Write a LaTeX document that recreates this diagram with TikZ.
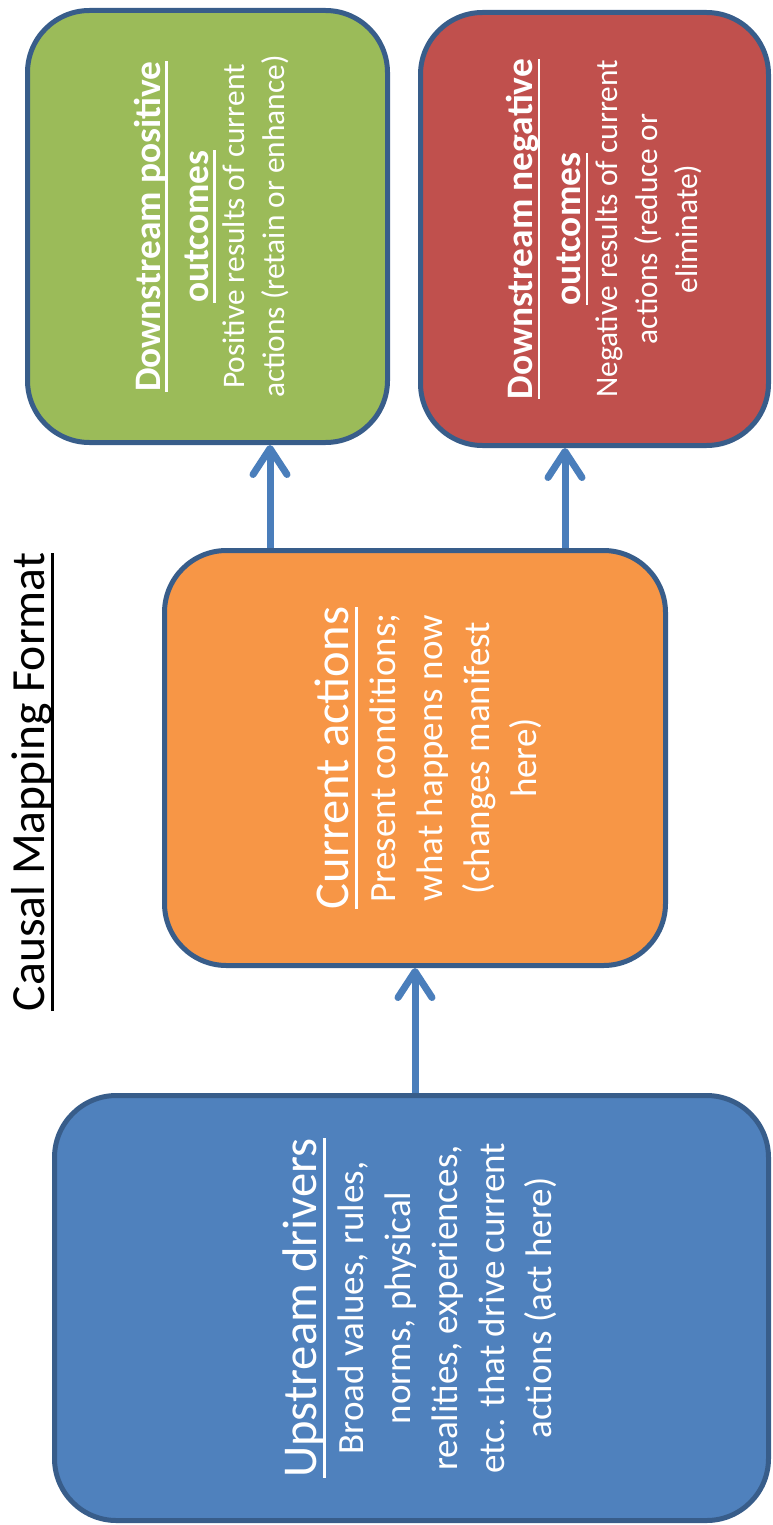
\documentclass[tikz,border=0pt]{standalone}
\usepackage{fontspec}
\setmainfont{Carlito}
\usetikzlibrary{arrows.meta,calc}

\definecolor{boxline}{HTML}{385D8A}
\definecolor{flowblue}{HTML}{4A7EBB}
\definecolor{posgreen}{HTML}{9BBB59}
\definecolor{negred}{HTML}{C0504D}
\definecolor{curorange}{HTML}{F79646}
\definecolor{upblue}{HTML}{4F81BD}

\providecommand{\bigtitle}{\fontsize{24.3}{28}\selectfont}
\providecommand{\bigbody}{\fontsize{18.5}{23.5}\selectfont}
\providecommand{\smalltitle}{\fontsize{18.7}{24}\selectfont\bfseries}
\providecommand{\smallbody}{\fontsize{15.7}{20}\selectfont}
\providecommand{\ulbar}[1]{\leavevmode\setbox0\hbox{#1}\rlap{\rule[-0.2em]{\wd0}{1.4pt}}\box0}
\providecommand{\boxtext}[2]{\parbox{200pt}{\centering\vspace*{#1}#2}}

\tikzset{
  stepbox/.style={draw=boxline, line width=2.5pt, rounded corners=31pt, rotate=90,
    text=white, inner sep=0pt},
  flow/.style={draw=flowblue, line width=3.5pt, -{Straight Barb[length=13pt,width=17pt,round]}},
}

\begin{document}
\begin{tikzpicture}[x=0.5pt,y=-0.5pt]
\path[use as bounding box, fill=white] (0,0) rectangle (772,1525);

% Define nodes
\node[rotate=90, font=\fontsize{23.8}{28}\selectfont] (title) at (33,782) {\ulbar{Causal Mapping Format}};
\node[stepbox, fill=upblue, minimum width=212.5pt, minimum height=357pt]
  (up) at (411.5,1308) {\boxtext{8pt}{{\bigtitle\ulbar{Upstream drivers}\par}{\bigbody Broad values, rules,\\ norms, physical\\ realities, experiences,\\ etc. that drive current\\ actions (act here)\par}}};
\node[stepbox, fill=curorange, minimum width=207.5pt, minimum height=250.5pt]
  (cur) at (415,758) {\boxtext{13pt}{{\bigtitle\ulbar{Current actions}\par}{\bigbody Present conditions;\\ what happens now\\ (changes manifest\\ here)\par}}};
\node[stepbox, fill=posgreen, minimum width=216pt, minimum height=180pt]
  (green) at (207.5,226.5) {\boxtext{4pt}{{\smalltitle\ulbar{Downstream positive}\\ \ulbar{outcomes}\par}\vspace{-2pt}{\smallbody Positive results of current\\ actions (retain or enhance)\par}}};
\node[stepbox, fill=negred, minimum width=216.5pt, minimum height=174pt]
  (red) at (594.5,229) {\boxtext{10pt}{{\smalltitle\ulbar{Downstream negative}\\ \ulbar{outcomes}\par}\vspace{-1.5pt}{\smallbody Negative results of current\\ actions (reduce or\\ eliminate)\par}}};

% Connect the nodes
\coordinate (gp) at ($(cur.east)+(-145,0)$);
\coordinate (rp) at ($(cur.east)+(150,0)$);
\draw[flow] (cur.west |- up.east) -- (cur.west);
\draw[flow] (gp) -- (gp |- green.west);
\draw[flow] (rp) -- (rp |- red.west);

\end{tikzpicture}
\end{document}
